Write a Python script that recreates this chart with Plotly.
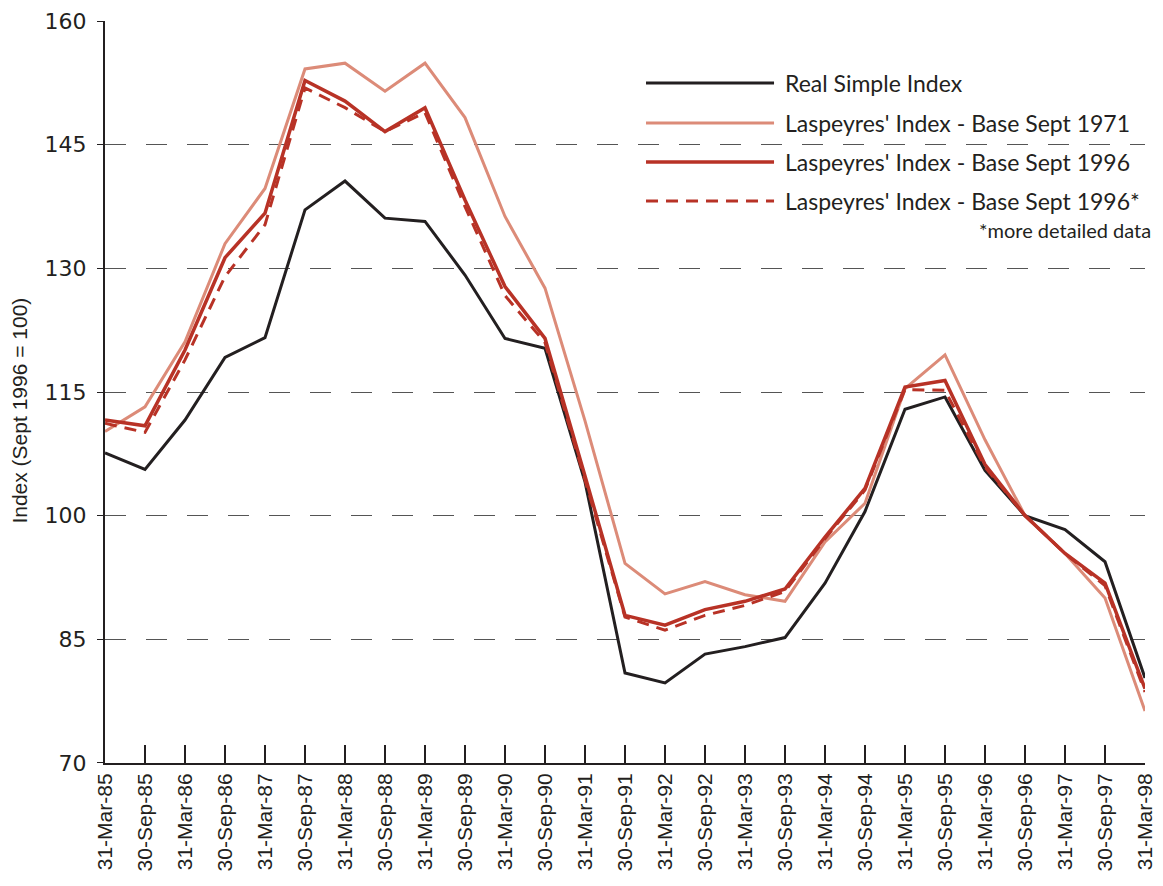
import plotly.graph_objects as go

dates = ["31-Mar-85", "30-Sep-85", "31-Mar-86", "30-Sep-86", "31-Mar-87", "30-Sep-87",
         "31-Mar-88", "30-Sep-88", "31-Mar-89", "30-Sep-89", "31-Mar-90", "30-Sep-90",
         "31-Mar-91", "30-Sep-91", "31-Mar-92", "30-Sep-92", "31-Mar-93", "30-Sep-93",
         "31-Mar-94", "30-Sep-94", "31-Mar-95", "30-Sep-95", "31-Mar-96", "30-Sep-96",
         "31-Mar-97", "30-Sep-97", "31-Mar-98"]

real_simple = [107.6, 105.6, 111.6, 119.2, 121.6, 137.1, 140.6, 136.1, 135.7, 129.2,
               121.5, 120.3, 104.1, 80.9, 79.7, 83.2, 84.1, 85.2, 91.8, 100.5,
               112.9, 114.4, 105.5, 100.0, 98.3, 94.4, 80.3]

lasp_1971 = [110.2, 113.2, 121.1, 133.0, 139.7, 154.2, 154.9, 151.5, 154.9, 148.3,
             136.3, 127.6, 111.5, 94.2, 90.5, 92.0, 90.4, 89.6, 96.8, 101.5,
             115.4, 119.5, 109.2, 100.0, 95.4, 90.0, 76.3]

lasp_1996 = [111.6, 110.9, 120.1, 131.3, 136.7, 152.8, 150.3, 146.6, 149.5, 138.3,
             127.8, 121.5, 104.8, 87.9, 86.7, 88.6, 89.6, 91.1, 97.4, 103.3,
             115.6, 116.4, 106.2, 100.0, 95.4, 91.8, 79.0]

lasp_1996_detail = [111.2, 110.1, 118.9, 129.0, 135.3, 151.9, 149.5, 146.6, 148.9, 137.5,
                    126.7, 121.0, 104.3, 87.7, 86.1, 87.9, 89.1, 90.8, 97.2, 103.1,
                    115.3, 115.2, 105.9, 100.0, 95.4, 91.5, 78.6]

series_names = ["Real Simple Index", "Laspeyres' Index - Base Sept 1971",
                "Laspeyres' Index - Base Sept 1996", "Laspeyres' Index - Base Sept 1996*"]
footnote = "*more detailed data"
y_ticks = [70, 85, 100, 115, 130, 145, 160]

BLACK = "#231f20"
SALMON = "#dc8b78"
RED = "#b83226"

styles = [
    dict(color=BLACK, width=3, dash="solid"),
    dict(color=SALMON, width=3, dash="solid"),
    dict(color=RED, width=3.5, dash="solid"),
    dict(color=RED, width=3, dash="12px,8px"),
]
all_series = [real_simple, lasp_1971, lasp_1996, lasp_1996_detail]

fig = go.Figure()
for name, vals, st in zip(series_names, all_series, styles):
    fig.add_trace(go.Scatter(x=dates, y=vals, mode="lines", name=name,
                             line=st, showlegend=False))

# custom legend (long line samples as in the reference)
legend_rows = [0.9164, 0.8625, 0.8100, 0.7574]
for st, name, yy in zip(styles, series_names, legend_rows):
    fig.add_shape(type="line", xref="paper", yref="paper", x0=0.5202, x1=0.6433,
                  y0=yy, y1=yy, line=st)
    fig.add_annotation(xref="paper", yref="paper", x=0.6519, y=yy, text=name,
                       showarrow=False, xanchor="left", yanchor="middle",
                       font=dict(family="Lato, Open Sans, sans-serif", size=23, color=BLACK))
fig.add_annotation(xref="paper", yref="paper", x=1.0077, y=0.719, text=footnote,
                   showarrow=False, xanchor="right", yanchor="middle",
                   font=dict(family="Lato, Open Sans, sans-serif", size=20, color=BLACK))

fig.add_annotation(xref="paper", yref="paper", x=-0.0817, y=0.475,
                   text="Index (Sept 1996 = 100)", textangle=-90, showarrow=False,
                   xanchor="center", yanchor="middle",
                   font=dict(family="Liberation Sans Narrow, Liberation Sans, Arial", size=21, color=BLACK))

fig.update_xaxes(
    type="category", range=[0, len(dates) - 1], automargin=False,
    showline=True, linecolor=BLACK, linewidth=2,
    ticks="inside", ticklen=18, tickwidth=1.5, tickcolor=BLACK,
    tickangle=-90, showgrid=False,
    tickfont=dict(family="Liberation Sans, Arial", size=21, color=BLACK),
)
fig.update_yaxes(
    range=[69.98, 160.02], tickvals=y_ticks, automargin=False,
    showline=True, linecolor=BLACK, linewidth=2,
    ticks="outside", ticklen=6, tickcolor=BLACK, tickwidth=1,
    showgrid=True, gridcolor="#555555", gridwidth=1.2, griddash="21px,20px",
    zeroline=False,
    tickfont=dict(family="DejaVu Sans, Verdana", size=22, color=BLACK),
    ticklabelstandoff=6,
)
fig.update_layout(
    width=1147, height=870,
    margin=dict(l=97, r=10, t=13, b=115, autoexpand=False),
    plot_bgcolor="white", paper_bgcolor="white",
    showlegend=False,
)
fig.write_html("out.html")
